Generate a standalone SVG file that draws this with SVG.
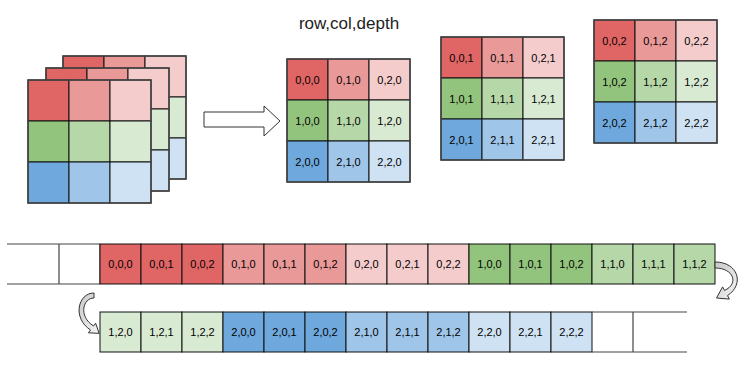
<svg xmlns="http://www.w3.org/2000/svg" xmlns:xlink="http://www.w3.org/1999/xlink" width="750" height="366" viewBox="0 0 750 366">
<style>
.dr{fill:#e06666}.mr{fill:#ea9999}.lr{fill:#f4cccc}
.dg{fill:#93c47d}.mg{fill:#b6d7a8}.lg{fill:#d9ead3}
.db{fill:#6fa8dc}.mb{fill:#9fc5e8}.lb{fill:#cfe2f3}
rect.c{stroke:#111;stroke-width:1}
rect.o{fill:none;stroke:#444;stroke-width:1.5}
text{font-family:"Liberation Sans",Arial,sans-serif;font-size:11px;fill:#000;text-anchor:middle}
text.t{font-size:17px;fill:#222}
.ln{stroke:#444;stroke-width:1.2;fill:none}
.arr{fill:#fff;stroke:#333;stroke-width:1}
.carr{fill:url(#cg);stroke:#333;stroke-width:1}
</style>
<defs>
<linearGradient id="cg" x1="0" y1="0" x2="1" y2="1">
<stop offset="0" stop-color="#c8c8c8"/><stop offset="1" stop-color="#f4f4f4"/>
</linearGradient>
<g id="layer">
<rect class="c dr" x="0" y="0" width="41" height="41"/><rect class="c mr" x="41" y="0" width="41" height="41"/><rect class="c lr" x="82" y="0" width="41" height="41"/>
<rect class="c dg" x="0" y="41" width="41" height="41"/><rect class="c mg" x="41" y="41" width="41" height="41"/><rect class="c lg" x="82" y="41" width="41" height="41"/>
<rect class="c db" x="0" y="82" width="41" height="41"/><rect class="c mb" x="41" y="82" width="41" height="41"/><rect class="c lb" x="82" y="82" width="41" height="41"/>
<rect class="o" x="0" y="0" width="123" height="123"/>
</g>
</defs>

<g id="cube">
<use xlink:href="#layer" href="#layer" x="63" y="56"/>
<use xlink:href="#layer" href="#layer" x="46" y="68"/>
<use xlink:href="#layer" href="#layer" x="28" y="80"/>
</g>

<g id="title"><text class="t" x="349" y="29">row,col,depth</text></g>

<g id="block-arrow"><path class="arr" d="M204,112 L264,112 L264,106 L280,121 L264,136 L264,127 L204,127 Z"/></g>

<g id="depth0" transform="translate(287,59)">
<use xlink:href="#layer" href="#layer"/>
<text x="20.5" y="24.5">0,0,0</text><text x="61.5" y="24.5">0,1,0</text><text x="102.5" y="24.5">0,2,0</text>
<text x="20.5" y="65.5">1,0,0</text><text x="61.5" y="65.5">1,1,0</text><text x="102.5" y="65.5">1,2,0</text>
<text x="20.5" y="106.5">2,0,0</text><text x="61.5" y="106.5">2,1,0</text><text x="102.5" y="106.5">2,2,0</text>
</g>

<g id="depth1" transform="translate(441,37)">
<use xlink:href="#layer" href="#layer"/>
<text x="20.5" y="24.5">0,0,1</text><text x="61.5" y="24.5">0,1,1</text><text x="102.5" y="24.5">0,2,1</text>
<text x="20.5" y="65.5">1,0,1</text><text x="61.5" y="65.5">1,1,1</text><text x="102.5" y="65.5">1,2,1</text>
<text x="20.5" y="106.5">2,0,1</text><text x="61.5" y="106.5">2,1,1</text><text x="102.5" y="106.5">2,2,1</text>
</g>

<g id="depth2" transform="translate(594,20)">
<use xlink:href="#layer" href="#layer"/>
<text x="20.5" y="24.5">0,0,2</text><text x="61.5" y="24.5">0,1,2</text><text x="102.5" y="24.5">0,2,2</text>
<text x="20.5" y="65.5">1,0,2</text><text x="61.5" y="65.5">1,1,2</text><text x="102.5" y="65.5">1,2,2</text>
<text x="20.5" y="106.5">2,0,2</text><text x="61.5" y="106.5">2,1,2</text><text x="102.5" y="106.5">2,2,2</text>
</g>

<g id="strip1">
<path class="ln" d="M7,244 H100 M7,284 H100 M59,244 V284 M100,244 V284"/>
<g id="m000"><rect class="c dr" x="100" y="244" width="41" height="40"/><text x="120.5" y="268">0,0,0</text></g>
<g id="m001"><rect class="c dr" x="141" y="244" width="41" height="40"/><text x="161.5" y="268">0,0,1</text></g>
<g id="m002"><rect class="c dr" x="182" y="244" width="41" height="40"/><text x="202.5" y="268">0,0,2</text></g>
<g id="m010"><rect class="c mr" x="223" y="244" width="41" height="40"/><text x="243.5" y="268">0,1,0</text></g>
<g id="m011"><rect class="c mr" x="264" y="244" width="41" height="40"/><text x="284.5" y="268">0,1,1</text></g>
<g id="m012"><rect class="c mr" x="305" y="244" width="41" height="40"/><text x="325.5" y="268">0,1,2</text></g>
<g id="m020"><rect class="c lr" x="346" y="244" width="41" height="40"/><text x="366.5" y="268">0,2,0</text></g>
<g id="m021"><rect class="c lr" x="387" y="244" width="41" height="40"/><text x="407.5" y="268">0,2,1</text></g>
<g id="m022"><rect class="c lr" x="428" y="244" width="41" height="40"/><text x="448.5" y="268">0,2,2</text></g>
<g id="m100"><rect class="c dg" x="469" y="244" width="41" height="40"/><text x="489.5" y="268">1,0,0</text></g>
<g id="m101"><rect class="c dg" x="510" y="244" width="41" height="40"/><text x="530.5" y="268">1,0,1</text></g>
<g id="m102"><rect class="c dg" x="551" y="244" width="41" height="40"/><text x="571.5" y="268">1,0,2</text></g>
<g id="m110"><rect class="c mg" x="592" y="244" width="41" height="40"/><text x="612.5" y="268">1,1,0</text></g>
<g id="m111"><rect class="c mg" x="633" y="244" width="41" height="40"/><text x="653.5" y="268">1,1,1</text></g>
<g id="m112"><rect class="c mg" x="674" y="244" width="41" height="40"/><text x="694.5" y="268">1,1,2</text></g>
</g>

<g id="strip2">
<g id="m120"><rect class="c lg" x="100" y="312" width="41" height="40"/><text x="120.5" y="336">1,2,0</text></g>
<g id="m121"><rect class="c lg" x="141" y="312" width="41" height="40"/><text x="161.5" y="336">1,2,1</text></g>
<g id="m122"><rect class="c lg" x="182" y="312" width="41" height="40"/><text x="202.5" y="336">1,2,2</text></g>
<g id="m200"><rect class="c db" x="223" y="312" width="41" height="40"/><text x="243.5" y="336">2,0,0</text></g>
<g id="m201"><rect class="c db" x="264" y="312" width="41" height="40"/><text x="284.5" y="336">2,0,1</text></g>
<g id="m202"><rect class="c db" x="305" y="312" width="41" height="40"/><text x="325.5" y="336">2,0,2</text></g>
<g id="m210"><rect class="c mb" x="346" y="312" width="41" height="40"/><text x="366.5" y="336">2,1,0</text></g>
<g id="m211"><rect class="c mb" x="387" y="312" width="41" height="40"/><text x="407.5" y="336">2,1,1</text></g>
<g id="m212"><rect class="c mb" x="428" y="312" width="41" height="40"/><text x="448.5" y="336">2,1,2</text></g>
<g id="m220"><rect class="c lb" x="469" y="312" width="41" height="40"/><text x="489.5" y="336">2,2,0</text></g>
<g id="m221"><rect class="c lb" x="510" y="312" width="41" height="40"/><text x="530.5" y="336">2,2,1</text></g>
<g id="m222"><rect class="c lb" x="551" y="312" width="41" height="40"/><text x="571.5" y="336">2,2,2</text></g>
<path class="ln" d="M592,312 H687 M592,352 H687 M633,312 V352"/>
</g>

<g id="connectors">
<path class="carr" d="M715,262 C738,262 745,284 727.5,295.6 L729.4,299.1 L716.5,298 L722.6,286.9 L724.5,290.4 C739,284 734,268 715,268 Z"/>
<path class="carr" d="M94,293 C78,293 72,318 90.5,330 L88.4,332.8 L99.2,333.4 L95.6,323.2 L93.5,326 C78,316 83,298 94,298 Z"/>
</g>
</svg>
